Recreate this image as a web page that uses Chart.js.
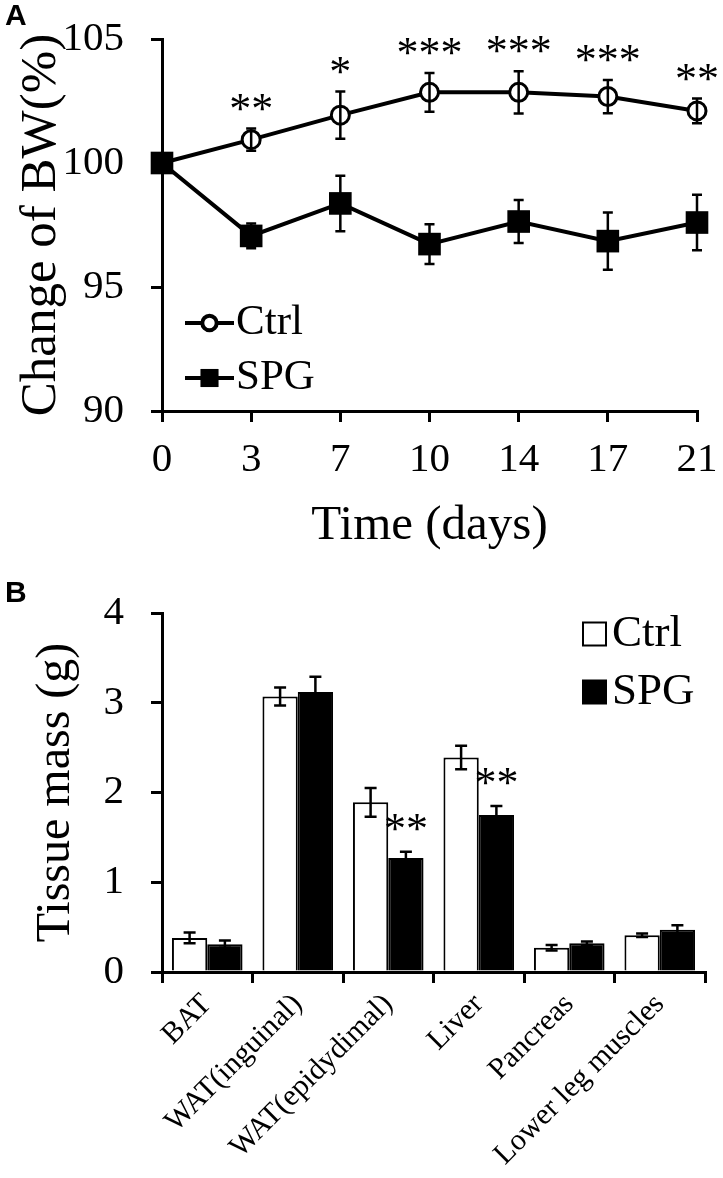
<!DOCTYPE html>
<html>
<head>
<meta charset="utf-8">
<script src="https://cdn.jsdelivr.net/npm/chart.js@4"></script>
<style>
  body { margin: 0; background: #fff; }
  .wrap { position: relative; width: 723px; height: 1178px; }
  canvas { position: absolute; left: 0; }
  #chartA { top: 0; }
  #chartB { top: 585px; }
  .tag { position: absolute; left: 5px; font: bold 30px/1 "Liberation Sans", Arial, sans-serif; color: #000; }
</style>
</head>
<body>
<div class="wrap">
  <canvas id="chartA" width="723" height="575"></canvas>
  <canvas id="chartB" width="723" height="593"></canvas>
  <div class="tag" style="top:0px">A</div>
  <div class="tag" style="top:577px">B</div>
</div>
<script>
// panel A - body weight change
const days = ['0', '3', '7', '10', '14', '17', '21'];
const ctrlBW = [100, 100.94, 101.93, 102.85, 102.85, 102.68, 102.1];
const ctrlBWErr = [0, 0.45, 0.95, 0.78, 0.85, 0.67, 0.5];
const spgBW = [100, 97.06, 98.37, 96.73, 97.64, 96.85, 97.6];
const spgBWErr = [0, 0.5, 1.12, 0.8, 0.87, 1.15, 1.12];
const bwStars = ['', '**', '*', '***', '***', '***', '**'];

// panel B - tissue mass
const tissues = ['BAT', 'WAT(inguinal)', 'WAT(epidydimal)', 'Liver', 'Pancreas', 'Lower leg muscles'];
const ctrlMass = [0.38, 3.07, 1.89, 2.39, 0.27, 0.41];
const ctrlMassErr = [0.06, 0.1, 0.16, 0.13, 0.03, 0.02];
const spgMass = [0.31, 3.12, 1.27, 1.75, 0.32, 0.47];
const spgMassErr = [0.04, 0.17, 0.07, 0.1, 0.02, 0.05];
const massStars = ['', '', '**', '**', '', ''];

Chart.defaults.font.family = '"Liberation Serif", "Times New Roman", serif';
Chart.defaults.color = '#000';
Chart.defaults.animation = false;

// error bars, drawn over the marks
const errorBars = {
  id: 'errorBars',
  afterDatasetsDraw(chart, args, opts) {
    const ctx = chart.ctx;
    const ys = chart.scales.y;
    ctx.save();
    ctx.strokeStyle = '#000';
    ctx.lineWidth = opts.width;
    chart.data.datasets.forEach((ds, i) => {
      chart.getDatasetMeta(i).data.forEach((el, j) => {
        const e = ds.errors[j];
        if (!e) return;
        const top = ys.getPixelForValue(ds.data[j] + e);
        const bot = ys.getPixelForValue(ds.data[j] - e);
        ctx.beginPath();
        ctx.moveTo(el.x, top); ctx.lineTo(el.x, bot);
        ctx.moveTo(el.x - opts.cap, top); ctx.lineTo(el.x + opts.cap, top);
        ctx.moveTo(el.x - opts.cap, bot); ctx.lineTo(el.x + opts.cap, bot);
        ctx.stroke();
      });
    });
    ctx.restore();
  }
};

// significance stars above the error bar
const starMarks = {
  id: 'starMarks',
  afterDatasetsDraw(chart, args, opts) {
    const ctx = chart.ctx;
    const ys = chart.scales.y;
    ctx.save();
    ctx.font = opts.font;
    ctx.fillStyle = '#000';
    ctx.textAlign = 'center';
    ctx.textBaseline = 'alphabetic';
    chart.data.datasets.forEach((ds, i) => {
      if (!ds.stars) return;
      chart.getDatasetMeta(i).data.forEach((el, j) => {
        const s = ds.stars[j];
        if (!s) return;
        const top = ys.getPixelForValue(ds.data[j] + ds.errors[j]);
        ctx.fillText(s, el.x, top - opts.gap);
      });
    });
    ctx.restore();
  }
};

// legend inside the plot: line + marker (A) or box (B)
const innerLegend = {
  id: 'innerLegend',
  afterDraw(chart, args, opts) {
    const ctx = chart.ctx;
    const area = chart.chartArea;
    ctx.save();
    ctx.font = opts.font;
    ctx.textBaseline = 'middle';
    chart.data.datasets.forEach((ds, i) => {
      const x = opts.fromRight ? area.right - opts.x : area.left + opts.x;
      const y = area.top + opts.y + i * opts.rowGap;
      let tx;
      if (opts.kind === 'line') {
        ctx.strokeStyle = '#000';
        ctx.lineWidth = ds.borderWidth;
        ctx.beginPath();
        ctx.moveTo(x, y); ctx.lineTo(x + opts.len, y);
        ctx.stroke();
        ctx.fillStyle = ds.pointBackgroundColor;
        ctx.strokeStyle = ds.pointBorderColor;
        Chart.helpers.drawPoint(ctx, {
          pointStyle: ds.pointStyle, radius: ds.pointRadius * 0.8,
          borderWidth: ds.pointBorderWidth, rotation: 0
        }, x + opts.len / 2, y);
        tx = x + opts.len + 2;
      } else {
        ctx.fillStyle = ds.backgroundColor;
        ctx.fillRect(x, y - opts.box / 2, opts.box, opts.box);
        ctx.strokeStyle = '#000';
        ctx.lineWidth = 2;
        ctx.strokeRect(x, y - opts.box / 2, opts.box, opts.box);
        tx = x + opts.box + 6;
      }
      ctx.fillStyle = '#000';
      ctx.fillText(ds.label, tx, y);
    });
    ctx.restore();
  }
};

function axisGrid(offset) {
  return { display: true, drawOnChartArea: false, drawTicks: true, tickLength: 11,
           color: '#000', lineWidth: 3, offset: offset };
}

new Chart(document.getElementById('chartA'), {
  type: 'line',
  data: {
    labels: days,
    datasets: [{
      label: 'Ctrl',
      data: ctrlBW,
      errors: ctrlBWErr,
      stars: bwStars,
      borderColor: '#000',
      borderWidth: 4,
      pointStyle: 'circle',
      pointRadius: 9,
      pointBorderWidth: 3,
      pointBackgroundColor: '#fff',
      pointBorderColor: '#000',
      order: 1,
      clip: false
    }, {
      label: 'SPG',
      data: spgBW,
      errors: spgBWErr,
      borderColor: '#000',
      borderWidth: 4,
      pointStyle: 'rect',
      pointRadius: 16,
      pointBorderWidth: 0,
      pointBackgroundColor: '#000',
      pointBorderColor: '#000',
      order: 0,
      clip: false
    }]
  },
  options: {
    responsive: false,
    layout: { padding: { left: 0, top: 39, right: 26, bottom: 0 } },
    plugins: {
      legend: { display: false },
      tooltip: { enabled: false },
      errorBars: { width: 2.5, cap: 5 },
      starMarks: { font: '44px "Liberation Serif"', gap: 6 },
      innerLegend: { kind: 'line', font: '43px "Liberation Serif"', x: 23, y: 284, rowGap: 55, len: 49 }
    },
    scales: {
      x: {
        offset: false,
        grid: axisGrid(false),
        border: { display: true, color: '#000', width: 3 },
        ticks: { font: { size: 41, lineHeight: 1 }, padding: 18, maxRotation: 0 },
        title: { display: true, text: 'Time (days)', font: { size: 49, lineHeight: 1 }, padding: { top: 0, bottom: 24 } },
        afterFit(scale) { scale.height = 164; scale.paddingLeft = 0; scale.paddingRight = 0; }
      },
      y: {
        min: 90, max: 105,
        grid: axisGrid(false),
        border: { display: true, color: '#000', width: 3 },
        ticks: { stepSize: 5, font: { size: 41, lineHeight: 1 }, padding: 27 },
        title: { display: true, text: 'Change of BW(%)', font: { size: 51, lineHeight: 1 }, padding: { top: 16, bottom: 0 } },
        afterFit(scale) { scale.width = 162; scale.paddingTop = 0; scale.paddingBottom = 0; }
      }
    }
  },
  plugins: [errorBars, starMarks, innerLegend]
});

new Chart(document.getElementById('chartB'), {
  type: 'bar',
  data: {
    labels: tissues,
    datasets: [{
      label: 'Ctrl',
      data: ctrlMass,
      errors: ctrlMassErr,
      backgroundColor: '#fff',
      borderColor: '#000',
      borderWidth: 2
    }, {
      label: 'SPG',
      data: spgMass,
      errors: spgMassErr,
      stars: massStars,
      backgroundColor: '#000',
      borderColor: '#000',
      borderWidth: 2
    }]
  },
  options: {
    responsive: false,
    layout: { padding: { left: 0, top: 28, right: 18, bottom: 0 } },
    datasets: { bar: { categoryPercentage: 0.78, barPercentage: 1.0 } },
    plugins: {
      legend: { display: false },
      tooltip: { enabled: false },
      errorBars: { width: 2.5, cap: 6 },
      starMarks: { font: '44px "Liberation Serif"', gap: 9 },
      innerLegend: { kind: 'box', font: '45px "Liberation Serif"', fromRight: true, x: 122, y: 21, rowGap: 58, box: 23 }
    },
    scales: {
      x: {
        grid: axisGrid(true),
        border: { display: true, color: '#000', width: 3 },
        ticks: { font: { size: 30, lineHeight: 1 }, padding: 6, minRotation: 45, maxRotation: 45, autoSkip: false },
        afterFit(scale) { scale.height = 206; scale.paddingLeft = 0; scale.paddingRight = 0; }
      },
      y: {
        min: 0, max: 4,
        grid: axisGrid(false),
        border: { display: true, color: '#000', width: 3 },
        ticks: { stepSize: 1, font: { size: 41, lineHeight: 1 }, padding: 27 },
        title: { display: true, text: 'Tissue mass (g)', font: { size: 48, lineHeight: 1 }, padding: { top: 32, bottom: 0 } },
        afterFit(scale) { scale.width = 162; scale.paddingTop = 0; scale.paddingBottom = 0; }
      }
    }
  },
  plugins: [errorBars, starMarks, innerLegend]
});
</script>
</body>
</html>
